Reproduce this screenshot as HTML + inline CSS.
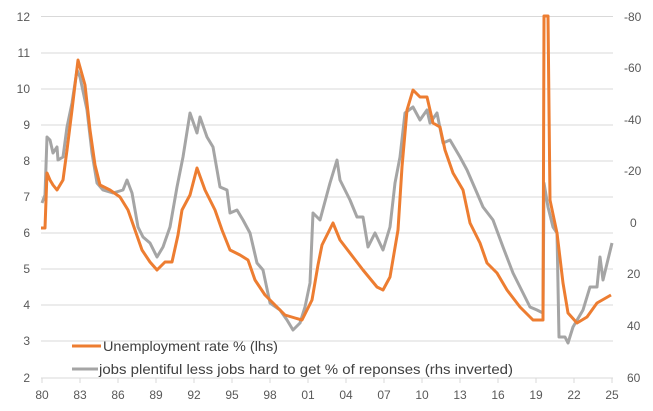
<!DOCTYPE html>
<html><head><meta charset="utf-8"><style>
html,body{margin:0;padding:0;background:#fff;}
svg{display:block;font-family:"Liberation Sans",sans-serif;}
</style></head><body>
<svg width="653" height="411" viewBox="0 0 653 411" xmlns="http://www.w3.org/2000/svg">
<g stroke="#d9d9d9" stroke-width="1">
<line x1="41" y1="16.5" x2="613" y2="16.5"/>
<line x1="41" y1="53" x2="613" y2="53"/>
<line x1="41" y1="89" x2="613" y2="89"/>
<line x1="41" y1="125" x2="613" y2="125"/>
<line x1="41" y1="161" x2="613" y2="161"/>
<line x1="41" y1="197" x2="613" y2="197"/>
<line x1="41" y1="233" x2="613" y2="233"/>
<line x1="41" y1="269" x2="613" y2="269"/>
<line x1="41" y1="305" x2="613" y2="305"/>
<line x1="41" y1="341" x2="613" y2="341"/>
<line x1="41" y1="378" x2="613" y2="378"/>
</g>
<g stroke="#d9d9d9" stroke-width="1">
<line x1="42" y1="378" x2="42" y2="383"/><line x1="80" y1="378" x2="80" y2="383"/><line x1="118" y1="378" x2="118" y2="383"/><line x1="156" y1="378" x2="156" y2="383"/><line x1="194" y1="378" x2="194" y2="383"/><line x1="232" y1="378" x2="232" y2="383"/><line x1="270" y1="378" x2="270" y2="383"/><line x1="308" y1="378" x2="308" y2="383"/><line x1="346" y1="378" x2="346" y2="383"/><line x1="384" y1="378" x2="384" y2="383"/><line x1="422" y1="378" x2="422" y2="383"/><line x1="460" y1="378" x2="460" y2="383"/><line x1="498" y1="378" x2="498" y2="383"/><line x1="536" y1="378" x2="536" y2="383"/><line x1="574" y1="378" x2="574" y2="383"/><line x1="612" y1="378" x2="612" y2="383"/>
</g>
<g font-size="12" fill="#595959" text-anchor="end">
<text x="30" y="21">12</text><text x="30" y="57">11</text><text x="30" y="93">10</text><text x="30" y="129">9</text><text x="30" y="165">8</text><text x="30" y="201">7</text><text x="30" y="237">6</text><text x="30" y="273">5</text><text x="30" y="309">4</text><text x="30" y="345">3</text><text x="30" y="382">2</text>
</g>
<g font-size="12" fill="#595959" text-anchor="start">
<text x="624" y="21">-80</text><text x="624" y="72">-60</text><text x="624" y="124">-40</text><text x="624" y="175">-20</text><text x="630" y="227">0</text><text x="627" y="278">20</text><text x="627" y="330">40</text><text x="627" y="382">60</text>
</g>
<g font-size="12" fill="#595959" text-anchor="middle">
<text x="42" y="399">80</text><text x="80" y="399">83</text><text x="118" y="399">86</text><text x="156" y="399">89</text><text x="194" y="399">92</text><text x="232" y="399">95</text><text x="270" y="399">98</text><text x="308" y="399">01</text><text x="346" y="399">04</text><text x="384" y="399">07</text><text x="422" y="399">10</text><text x="460" y="399">13</text><text x="498" y="399">16</text><text x="536" y="399">19</text><text x="574" y="399">22</text><text x="612" y="399">25</text>
</g>
<polyline fill="none" stroke="#A5A5A5" stroke-width="3" stroke-linejoin="round" points="42,203 45,195 47,137 50,140 53,153 57,147 58,160 63,157 67,127 72,103 77,70 80,77 87,110 92,153 97,183 103,190 113,193 123,190 127,180 132,193 138,227 143,237 150,243 157,257 163,247 170,227 177,187 183,157 190,113 197,133 200,117 207,137 213,147 220,187 227,190 230,213 237,210 243,220 250,233 257,263 263,270 270,303 280,310 287,320 293,330 300,323 305,307 310,283 313,213 320,220 330,183 337,160 340,180 350,200 357,217 363,217 368,247 375,233 383,250 390,227 395,183 400,157 405,113 413,107 420,120 427,110 430,123 437,113 443,143 450,140 460,157 467,170 477,193 483,207 493,220 503,247 513,273 520,287 530,307 537,310 543,313 544,183 548,207 553,227 557,233 559,337 565,337 568,343 573,327 583,310 590,287 597,287 600,257 603,280 612,243"/>
<polyline fill="none" stroke="#ED7D31" stroke-width="3" stroke-linejoin="round" points="41,228 45,228 47,173 50,180 53,185 57,190 60,185 63,180 67,150 72,110 78,60 85,85 90,130 95,165 100,185 110,190 120,197 128,210 135,230 142,250 150,262 157,270 165,262 172,262 178,235 182,210 190,195 197,168 205,190 215,210 222,230 230,250 240,255 248,260 255,280 265,295 275,305 285,315 295,318 302,320 307,310 312,300 318,265 322,245 333,223 340,240 353,257 363,270 377,287 383,290 390,277 398,230 402,167 407,110 413,90 420,97 427,97 433,123 440,127 445,150 453,173 463,190 470,223 480,243 487,263 497,273 507,290 520,307 533,320 543,320 544,16 548,16 550,200 557,233 563,283 568,313 577,323 587,317 597,303 611,295"/>
<rect x="68" y="336" width="450" height="42" fill="#fff" opacity="0"/>
<line x1="72" y1="346" x2="101" y2="346" stroke="#ED7D31" stroke-width="3"/>
<line x1="72" y1="369" x2="98" y2="369" stroke="#A5A5A5" stroke-width="3"/>
<g font-size="14" fill="#404040">
<text x="103" y="351" textLength="175" lengthAdjust="spacingAndGlyphs">Unemployment rate % (lhs)</text>
<text x="99" y="374" textLength="414" lengthAdjust="spacingAndGlyphs">jobs plentiful less jobs hard to get % of reponses (rhs inverted)</text>
</g>
</svg>
</body></html>
